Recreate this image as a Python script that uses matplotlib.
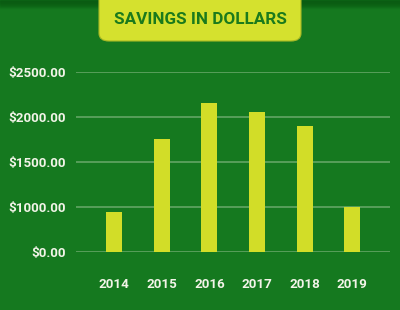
import numpy as np
import matplotlib
matplotlib.use('Agg')
import matplotlib.pyplot as plt
from matplotlib.patches import FancyBboxPatch

years = ['2014', '2015', '2016', '2017', '2018', '2019']
savings = [890, 1755, 2155, 2055, 1895, 1000]
tick_values = [0, 1000, 1500, 2000, 2500]
tick_labels = ['$0.00', '$1000.00', '$1500.00', '$2000.00', '$2500.00']
title = 'SAVINGS IN DOLLARS'

BG = '#15791f'
BAR = '#d2dd28'
BOX = '#d5e12e'
GRID = '#62a564'

# gridlines are evenly spaced although the labels are not
pos = np.arange(len(tick_values), dtype=float)
fwd = lambda v: np.interp(v, tick_values, pos, left=None, right=None)
inv = lambda p: np.interp(p, pos, tick_values)

fig = plt.figure(figsize=(4, 3.1), dpi=100, facecolor=BG)
ax = fig.add_axes([76/400, (310-251.7)/310, 314/400, 179.7/310])
ax.set_facecolor(BG)
ax.set_yscale('function', functions=(fwd, inv))

x = np.arange(len(years))
ax.bar(x, savings, width=0.335, color=BAR, zorder=3)
ax.set_xlim(-0.8, 5.79)
ax.set_ylim(0, 2500)
ax.set_yticks(tick_values, tick_labels)
ax.set_xticks(x, years)
ax.grid(axis='y', color=GRID, linewidth=1.2, zorder=1)
ax.set_axisbelow(True)
for s in ax.spines.values():
    s.set_visible(False)
ax.tick_params(length=0, colors='white')
ax.tick_params(axis='y', pad=7)
ax.tick_params(axis='x', pad=19)
for lab in ax.get_xticklabels() + ax.get_yticklabels():
    lab.set_fontfamily('Roboto')
    lab.set_fontweight('bold')
    lab.set_fontsize(9.6)
    lab.set_color('#f2f4e8')

# darker band at the very top
for i in range(8):
    fig.patches.append(plt.Rectangle((0, 1 - (i+1)/310), 1, 1/310, transform=fig.transFigure,
                                     color='#0a5a12', alpha=0.6*(1 - i/8), zorder=0))

box = FancyBboxPatch((99/400, 1 - 41/310), 202/400, 50/310,
                     boxstyle='round,pad=0,rounding_size=0.025', transform=fig.transFigure,
                     facecolor=BOX, edgecolor='#a8b826', linewidth=0.8, zorder=2)
fig.patches.append(box)
fig.text(0.5, 1 - 19.5/310, title, ha='center', va='center', color='#1b7a1c',
         fontsize=12.3, fontweight='bold', family=['Roboto', 'DejaVu Sans'], zorder=3)

fig.savefig('out.png', dpi=100, facecolor=BG)
